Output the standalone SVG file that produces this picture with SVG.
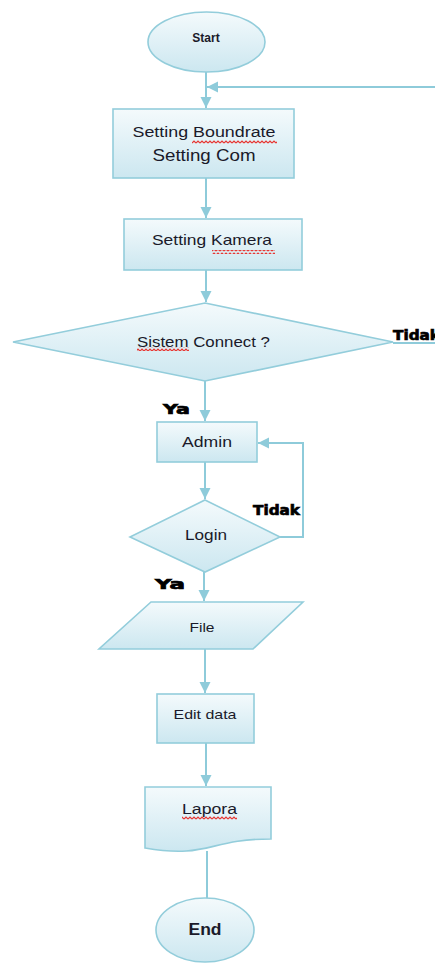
<svg xmlns="http://www.w3.org/2000/svg" width="435" height="966" viewBox="0 0 435 966">
  <defs>
    <linearGradient id="shapeFill" x1="0" y1="0" x2="0" y2="1">
      <stop offset="0" stop-color="#f4fafc"/>
      <stop offset="1" stop-color="#cce7f0"/>
    </linearGradient>
    <marker id="arrow" markerUnits="userSpaceOnUse" markerWidth="12" markerHeight="12" refX="11" refY="6" orient="auto">
      <path d="M0,0.5 L11,6 L0,11.5 Z" fill="#8ecbda"/>
    </marker>
    <pattern id="squiggle" patternUnits="userSpaceOnUse" width="4" height="4">
      <path d="M0,3 L2,1 L4,3" fill="none" stroke="#e8322e" stroke-width="1.2"/>
    </pattern>
    <style>
      .shape { fill: url(#shapeFill); stroke: #93cddb; stroke-width: 1.6; }
      .conn { fill: none; stroke: #8ecbda; stroke-width: 2; }
      .label { font-family: "Liberation Sans", Arial, sans-serif; fill: #1a1a2a; text-anchor: middle; }
      .bold { font-weight: bold; }
      .tag { font-family: "DejaVu Sans", "Liberation Sans", sans-serif; font-weight: bold; fill: #000; stroke: #000; stroke-width: 0.7; }
    </style>
  </defs>

  <!-- connectors -->
  <g id="connectors">
    <path class="conn" d="M206,72 V108" marker-end="url(#arrow)"/>
    <path class="conn" d="M435,87 H207" marker-end="url(#arrow)"/>
    <path class="conn" d="M206,178 V218" marker-end="url(#arrow)"/>
    <path class="conn" d="M206,270 V302" marker-end="url(#arrow)"/>
    <path class="conn" d="M393,343 H435"/>
    <path class="conn" d="M205,381 V421" marker-end="url(#arrow)"/>
    <path class="conn" d="M205,462 V499" marker-end="url(#arrow)"/>
    <path class="conn" d="M280,537 H303 V443 H258" marker-end="url(#arrow)"/>
    <path class="conn" d="M204,572 V601" marker-end="url(#arrow)"/>
    <path class="conn" d="M205,649 V693" marker-end="url(#arrow)"/>
    <path class="conn" d="M206,743 V786" marker-end="url(#arrow)"/>
    <path class="conn" d="M207,851 V898"/>
  </g>

  <g id="start">
    <ellipse class="shape" cx="206.5" cy="42" rx="58.5" ry="30"/>
    <text class="label bold" x="206" y="42" font-size="12">Start</text>
  </g>

  <g id="setting-port">
    <rect class="shape" x="113" y="109" width="181" height="69"/>
    <text class="label" x="204" y="137" font-size="15.5" textLength="143" lengthAdjust="spacingAndGlyphs">Setting Boundrate</text>
    <text class="label" x="204" y="161" font-size="16.5" textLength="103" lengthAdjust="spacingAndGlyphs">Setting Com</text>
    <rect x="192" y="140" width="85" height="4" fill="url(#squiggle)"/>
  </g>

  <g id="setting-kamera">
    <rect class="shape" x="124" y="219" width="178" height="51"/>
    <text class="label" x="212" y="245" font-size="14.5" textLength="120" lengthAdjust="spacingAndGlyphs">Setting Kamera</text>
    <rect x="212" y="250" width="63" height="4" fill="url(#squiggle)"/>
  </g>

  <g id="sistem-connect">
    <polygon class="shape" points="205,303 393,342 205,381 13,342"/>
    <text class="label" x="203.5" y="347" font-size="14.5" textLength="133" lengthAdjust="spacingAndGlyphs">Sistem Connect ?</text>
    <rect x="137" y="347" width="52" height="4" fill="url(#squiggle)"/>
    <text class="tag" x="393" y="340" font-size="14" textLength="47" lengthAdjust="spacingAndGlyphs">Tidak</text>
    <text class="tag" x="163" y="414" font-size="14" textLength="27" lengthAdjust="spacingAndGlyphs">Ya</text>
  </g>

  <g id="admin">
    <rect class="shape" x="157" y="422" width="100" height="40"/>
    <text class="label" x="207" y="447" font-size="14.5" textLength="50" lengthAdjust="spacingAndGlyphs">Admin</text>
  </g>

  <g id="login">
    <polygon class="shape" points="205,500 280,537 205,572 130,537"/>
    <text class="label" x="206" y="540" font-size="14.5" textLength="42" lengthAdjust="spacingAndGlyphs">Login</text>
    <text class="tag" x="253" y="515" font-size="14" textLength="47" lengthAdjust="spacingAndGlyphs">Tidak</text>
    <text class="tag" x="155" y="589" font-size="14" textLength="30" lengthAdjust="spacingAndGlyphs">Ya</text>
  </g>

  <g id="file">
    <polygon class="shape" points="151,602 303,602 253,649 99,649"/>
    <text class="label" x="202" y="632" font-size="13" textLength="25" lengthAdjust="spacingAndGlyphs">File</text>
  </g>

  <g id="edit-data">
    <rect class="shape" x="157" y="694" width="97" height="49"/>
    <text class="label" x="205" y="719" font-size="13.5" textLength="63" lengthAdjust="spacingAndGlyphs">Edit data</text>
  </g>

  <g id="laporan">
    <path class="shape" d="M145,787 H271 V839 C208,839 208,859 145,848 Z"/>
    <text class="label" x="209.5" y="814" font-size="15.5" textLength="55" lengthAdjust="spacingAndGlyphs">Lapora</text>
    <rect x="182" y="816" width="55" height="4" fill="url(#squiggle)"/>
  </g>

  <g id="end">
    <ellipse class="shape" cx="205" cy="930" rx="49" ry="32"/>
    <text class="label bold" x="205" y="935" font-size="16.5" textLength="33" lengthAdjust="spacingAndGlyphs">End</text>
  </g>
</svg>
